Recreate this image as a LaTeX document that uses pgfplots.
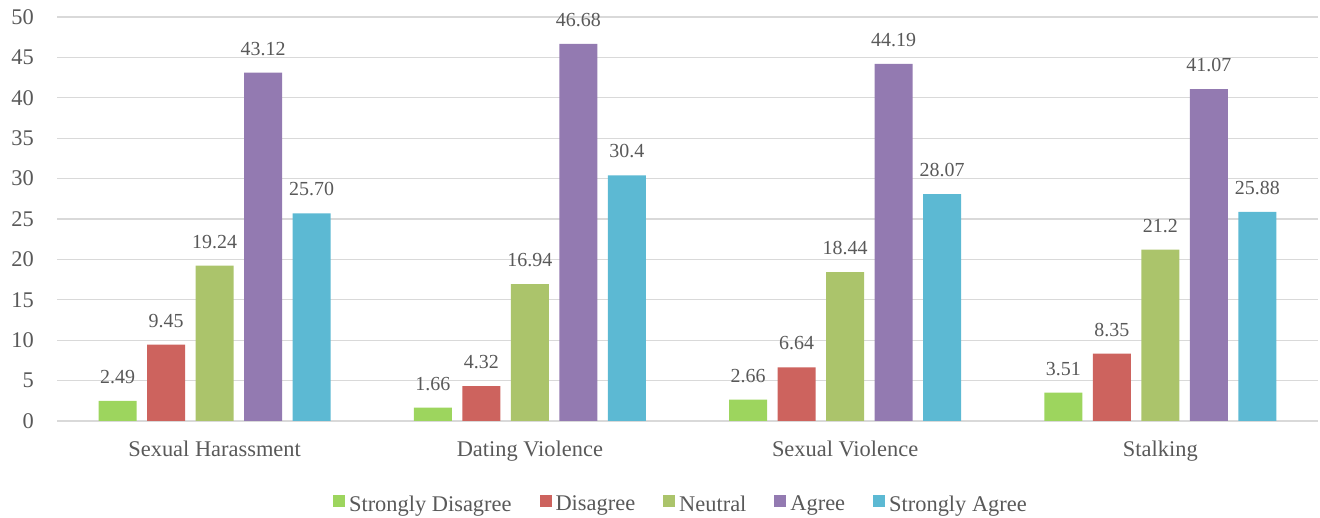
\documentclass[border=0pt]{standalone}
\usepackage{fontspec}
\setmainfont{Liberation Serif}
\usepackage{pgfplots}
\pgfplotsset{compat=1.18}

\definecolor{sdis}{RGB}{157,213,94}
\definecolor{dis}{RGB}{205,99,94}
\definecolor{neu}{RGB}{171,196,107}
\definecolor{agr}{RGB}{147,122,177}
\definecolor{sagr}{RGB}{92,185,211}
\definecolor{gridgray}{RGB}{217,217,217}
\definecolor{txtgray}{RGB}{89,89,89}

\begin{document}
\begin{tikzpicture}
\path[use as bounding box] (0,0) rectangle (1320bp,518bp);
\begin{axis}[
  at={(57bp,97bp)}, anchor=south west,
  scale only axis, width=1261bp, height=404bp,
  xmin=-0.5, xmax=3.5, ymin=0, ymax=50,
  ybar=10.5bp, bar width=38bp,
  xtick={0,1,2,3},
  xticklabels={Sexual Harassment, Dating Violence, Sexual Violence, Stalking},
  ytick={0,5,...,50},
  ymajorgrids,
  grid style={draw=gridgray, line width=1.3bp},
  axis line style={draw=none},
  major tick length=0pt,
  /pgf/number format/assume math mode=true,
  tick label style={font=\fontsize{22.5}{26}\selectfont, text=txtgray, inner sep=0pt},
  yticklabel style={anchor=east, xshift=-23bp},
  xticklabel style={anchor=north, yshift=-20bp},
  nodes near coords,
  point meta=explicit symbolic,
  every node near coord/.append style={font=\fontsize{20}{22}\selectfont, text=txtgray, inner sep=0pt, anchor=south, yshift=17bp},
  legend style={at={(0.494,-0.205)}, anchor=center, draw=none, fill=none,
    legend columns=5, font=\fontsize{22.5}{26}\selectfont, text=txtgray,
    /tikz/every odd column/.append style={column sep=4bp},
    /tikz/every even column/.append style={column sep=28bp},
    nodes={inner sep=0pt}},
  legend image code/.code={\fill[#1] (0bp,-3bp) rectangle (12bp,9bp);},
]
\addplot[fill=sdis, draw=none] coordinates {(0,2.49) [2.49] (1,1.66) [1.66] (2,2.66) [2.66] (3,3.51) [3.51]};
\addplot[fill=dis, draw=none] coordinates {(0,9.45) [9.45] (1,4.32) [4.32] (2,6.64) [6.64] (3,8.35) [8.35]};
\addplot[fill=neu, draw=none] coordinates {(0,19.24) [19.24] (1,16.94) [16.94] (2,18.44) [18.44] (3,21.2) [21.2]};
\addplot[fill=agr, draw=none] coordinates {(0,43.12) [43.12] (1,46.68) [46.68] (2,44.19) [44.19] (3,41.07) [41.07]};
\addplot[fill=sagr, draw=none] coordinates {(0,25.70) [25.70] (1,30.4) [30.4] (2,28.07) [28.07] (3,25.88) [25.88]};
\legend{Strongly Disagree, Disagree, Neutral, Agree, Strongly Agree}
\end{axis}
\end{tikzpicture}
\end{document}
